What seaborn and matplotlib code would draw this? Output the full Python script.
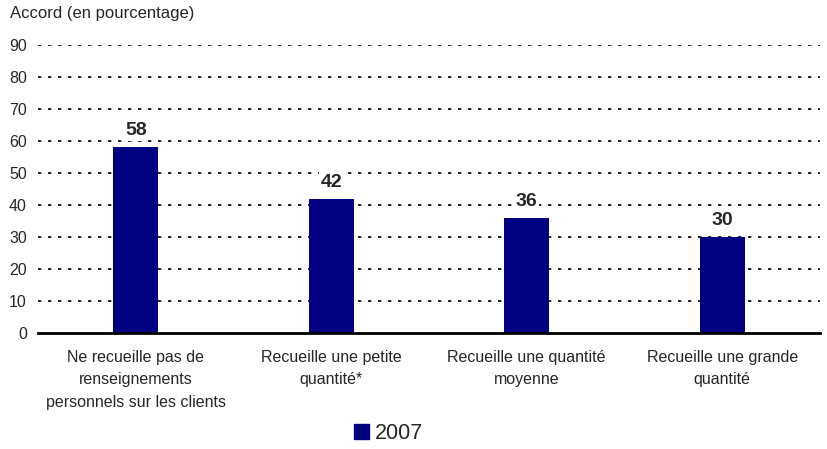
import numpy as np
import pandas as pd
import matplotlib
matplotlib.use("Agg")
import matplotlib.pyplot as plt
import seaborn as sns
from matplotlib.patches import Patch

categories = [
    "Ne recueille pas de\nrenseignements\npersonnels sur les clients",
    "Recueille une petite\nquantité*",
    "Recueille une quantité\nmoyenne",
    "Recueille une grande\nquantité",
]
values_2007 = [58, 42, 36, 30]
series_name = "2007"
yticks = list(range(0, 100, 10))

sns.set_style("white")
plt.rcParams["font.family"] = ["Liberation Sans", "DejaVu Sans"]

df = pd.DataFrame({"cat": categories, "val": values_2007})

fig = plt.figure(figsize=(8.27, 4.49), dpi=100)
ax = fig.add_axes([0.046, 0.2584, 0.9455, 0.6414])

sns.barplot(data=df, x="cat", y="val", color="#000080", width=0.23,
            saturation=1, linewidth=0, ax=ax)

ax.set_ylim(0, 90)
ax.set_xlim(-0.5, len(categories) - 0.5)
ax.set_yticks(yticks)
ax.set_yticklabels([str(t) for t in yticks], fontsize=11.5)
for t in yticks[1:]:
    ax.axhline(t, color="black", linestyle=(0, (2, 4)), linewidth=1.2, zorder=0)

ax.set_xticks(range(len(categories)))
ax.set_xticklabels(categories, fontsize=11.5, linespacing=1.65)
ax.tick_params(axis="x", which="major", length=0, pad=12)
ax.set_xticks(np.arange(-0.5, len(categories), 1), minor=True)
ax.tick_params(axis="x", which="minor", length=5, width=1.5, direction="out")
ax.tick_params(axis="y", length=0, pad=8)
ax.set_xlabel("")
ax.set_ylabel("")

for s in ["top", "right", "left"]:
    ax.spines[s].set_visible(False)
ax.spines["bottom"].set_linewidth(2)
ax.spines["bottom"].set_color("black")

for i, v in enumerate(values_2007):
    ax.text(i, v + 2.5, str(v), ha="center", va="bottom", fontsize=14, fontweight="bold",
            bbox=dict(facecolor="white", edgecolor="none", pad=1), zorder=5)

fig.text(0.012, 0.97, "Accord (en pourcentage)", fontsize=12, va="center", ha="left")

fig.legend(handles=[Patch(color="#000080", label=series_name)], loc="center",
           bbox_to_anchor=(0.47, 0.035), frameon=False, fontsize=15.5,
           handlelength=0.7, handleheight=0.7, handletextpad=0.3)

fig.savefig("out.png", dpi=100)
